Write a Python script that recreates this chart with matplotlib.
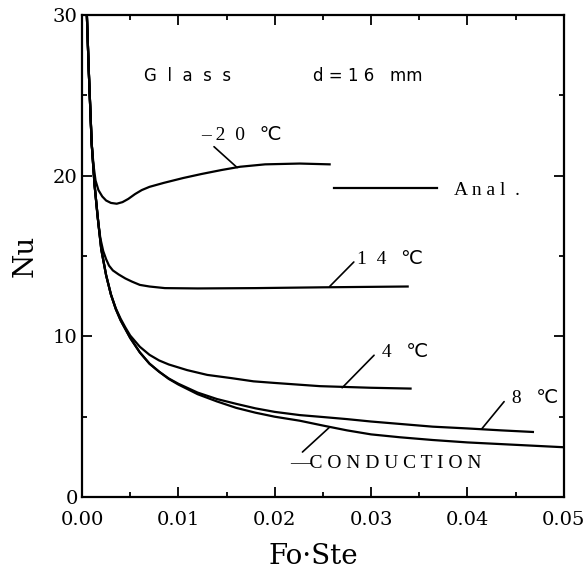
import matplotlib
matplotlib.use('Agg')
import matplotlib.pyplot as plt
from matplotlib.lines import Line2D
from matplotlib.ticker import MultipleLocator

# values (Fo*Ste, Nu)
cond_x = [0.0005, 0.0007, 0.001, 0.0013, 0.0017, 0.002, 0.0025, 0.003, 0.0035, 0.004,
          0.005, 0.006, 0.007, 0.008, 0.009, 0.01, 0.012, 0.014, 0.016, 0.018,
          0.02, 0.0226, 0.025, 0.0275, 0.03, 0.033, 0.0364, 0.04, 0.045, 0.05]
cond_y = [30.0, 26.5, 22.0, 19.4, 17.0, 15.4, 13.8, 12.6, 11.7, 11.0,
          9.9, 9.0, 8.3, 7.8, 7.35, 7.0, 6.4, 5.95, 5.55, 5.25,
          5.0, 4.75, 4.45, 4.15, 3.9, 3.72, 3.55, 3.4, 3.25, 3.1]

c8_x = [0.0005, 0.0007, 0.001, 0.0013, 0.0017, 0.002, 0.0025, 0.003, 0.0035, 0.004,
        0.005, 0.006, 0.007, 0.008, 0.009, 0.01, 0.012, 0.014, 0.016, 0.018,
        0.02, 0.0226, 0.025, 0.0275, 0.03, 0.033, 0.0364, 0.04, 0.0435, 0.0468]
c8_y = [30.0, 26.5, 22.0, 19.4, 17.0, 15.4, 13.8, 12.6, 11.7, 11.0,
        9.9, 9.0, 8.3, 7.8, 7.38, 7.05, 6.5, 6.1, 5.8, 5.52,
        5.3, 5.1, 4.98, 4.85, 4.7, 4.55, 4.38, 4.27, 4.15, 4.05]

c4_x = [0.0005, 0.0007, 0.001, 0.0013, 0.0017, 0.002, 0.0025, 0.003, 0.0035, 0.004,
        0.0045, 0.005, 0.006, 0.007, 0.008, 0.009, 0.0109, 0.013, 0.0155, 0.0178,
        0.02, 0.0247, 0.03, 0.0341]
c4_y = [30.0, 26.5, 22.0, 19.4, 17.0, 15.4, 13.8, 12.6, 11.75, 11.1,
        10.55, 10.05, 9.35, 8.85, 8.5, 8.25, 7.9, 7.6, 7.4, 7.2,
        7.1, 6.9, 6.8, 6.75]

c14_x = [0.0005, 0.0007, 0.001, 0.0013, 0.0016, 0.0019, 0.0022, 0.0025, 0.0028, 0.0032,
         0.0038, 0.0045, 0.0052, 0.006, 0.007, 0.0086, 0.012, 0.018, 0.025, 0.0338]
c14_y = [30.0, 26.5, 22.0, 19.5, 17.5, 16.1, 15.3, 14.8, 14.4, 14.1,
         13.85, 13.6, 13.4, 13.2, 13.1, 13.0, 12.98, 13.0, 13.05, 13.1]

c20_x = [0.0005, 0.0007, 0.001, 0.0012, 0.0014, 0.0017, 0.0021, 0.0025, 0.003, 0.0036,
         0.0042, 0.0048, 0.0055, 0.0062, 0.007, 0.0085, 0.0105, 0.0124, 0.0145, 0.0164,
         0.019, 0.0226, 0.0257]
c20_y = [30.0, 26.5, 22.0, 20.6, 19.7, 19.1, 18.7, 18.45, 18.3, 18.25,
         18.35, 18.55, 18.85, 19.1, 19.3, 19.55, 19.85, 20.1, 20.35, 20.55,
         20.7, 20.75, 20.7]

x_ticks = [0.00, 0.01, 0.02, 0.03, 0.04, 0.05]
y_ticks = [0, 10, 20, 30]

serif = ['DejaVu Serif']
note_font = ['Liberation Serif', 'DejaVu Sans']
head_font = ['DejaVu Sans']

fig = plt.figure(figsize=(5.86, 5.72), dpi=100)
ax = fig.add_axes([0.140, 0.131, 0.822, 0.843])

for xs, ys in [(cond_x, cond_y), (c8_x, c8_y), (c4_x, c4_y), (c14_x, c14_y), (c20_x, c20_y)]:
    ax.plot(xs, ys, color='black', lw=1.6, solid_joinstyle='round')

ax.set_xlim(0, 0.05)
ax.set_ylim(0, 30)
ax.set_xticks(x_ticks)
ax.set_xticklabels(['%.2f' % v for v in x_ticks], family=serif, fontsize=14)
ax.set_yticks(y_ticks)
ax.set_yticklabels([str(v) for v in y_ticks], family=serif, fontsize=14)
ax.xaxis.set_minor_locator(MultipleLocator(0.005))
ax.yaxis.set_minor_locator(MultipleLocator(5))
ax.tick_params(which='both', direction='in', top=True, right=True, width=1.3)
ax.tick_params(which='major', length=7)
ax.tick_params(which='minor', length=3.5)
ax.tick_params(axis='x', pad=10)
ax.tick_params(axis='y', pad=3)
for sp in ax.spines.values():
    sp.set_linewidth(1.6)

ax.set_xlabel('Fo\u00b7Ste', family=serif, fontsize=20)
ax.xaxis.set_label_coords(0.481, -0.095)
ax.set_ylabel('Nu', family=serif, fontsize=20, labelpad=10)

# heading text
ax.text(0.0064, 26.2, 'G  l  a  s  s', family=head_font, fontsize=12, va='center')
ax.text(0.0240, 26.2, 'd = 1 6   mm', family=head_font, fontsize=12, va='center')

leader = dict(arrowstyle='-', lw=1.2, color='black', shrinkA=0, shrinkB=0,
              relpos=(0, 0.5))
notes = [
    ('\u2013 2  0   \u2103', (0.0161, 20.5), (0.0124, 22.5)),
    ('1  4   \u2103', (0.0257, 13.1), (0.0285, 14.8)),
    (' 4   \u2103', (0.0270, 6.8), (0.0306, 9.0)),
    (' 8   \u2103', (0.0415, 4.25), (0.0441, 6.15)),
    ('\u2014C O N D U C T I O N', (0.0257, 4.35), (0.0216, 2.1)),
]
for label, xy, xytext in notes:
    ax.annotate(label, xy=xy, xytext=xytext, family=note_font, fontsize=14,
                va='center', ha='left', arrowprops=leader)

anal = Line2D([], [], color='black', lw=1.6)
ax.legend([anal], ['A n a l  .'], loc='center left', bbox_to_anchor=(0.523, 0.637),
          frameon=False, handlelength=5.3, handletextpad=0.85, borderpad=0,
          borderaxespad=0, prop={'family': note_font, 'size': 14})

fig.savefig('out.png', dpi=100)
